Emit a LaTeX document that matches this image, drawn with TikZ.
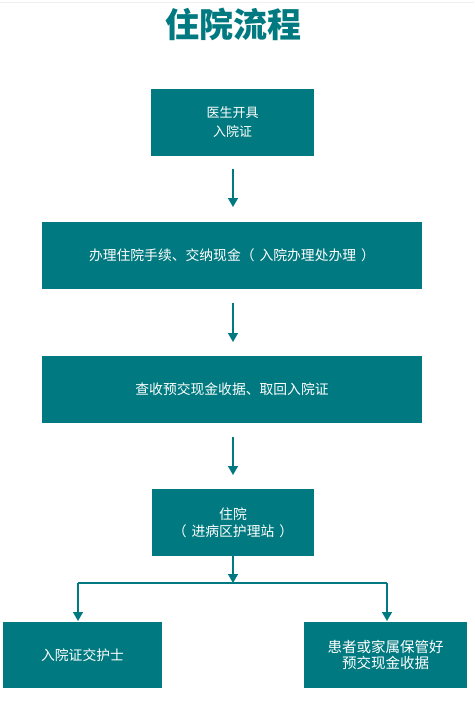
\documentclass[tikz,border=0pt]{standalone}
\usepackage{fontspec}
\setmainfont{Noto Sans CJK SC}
\newfontfamily\titlefont{Noto Sans CJK SC Black}
\usetikzlibrary{arrows.meta}
\definecolor{teal1}{HTML}{007A80}
\tikzset{
  box/.style={fill=teal1, text=white, font=\fontsize{13.8}{19}\selectfont, align=center, inner sep=0pt},
  arr/.style={draw=teal1, line width=1.4pt, -{Triangle[width=10pt,length=9pt]}},
  ln/.style={draw=teal1, line width=1.4pt}
}
\newcommand{\lp}{（\hspace{5pt}}
\newcommand{\rp}{\hspace{5pt}）}
\begin{document}
\begin{tikzpicture}[x=1pt,y=-1pt]
\useasboundingbox (0,0) rectangle (474,701);
\fill[white] (0,0) rectangle (474,701);
\draw[black!6, line width=1pt] (0,3) -- (474,3);
\node[text=teal1, font=\titlefont\fontsize{34}{36}\selectfont] (title) at (233,24) {住院流程};
\node[box, minimum width=163pt, minimum height=67pt, font=\fontsize{13}{19}\selectfont] (b1) at (232.5,122.5) {医生开具\\入院证};
\node[box, minimum width=380pt, minimum height=67pt] (b2) at (232,255.5) {办理住院手续、交纳现金\lp 入院办理处办理\rp};
\node[box, minimum width=380pt, minimum height=67pt] (b3) at (232,389.5) {查收预交现金收据、取回入院证};
\node[box, minimum width=162pt, minimum height=67pt, font=\fontsize{13.8}{17}\selectfont] (b4) at (233,522.5) {住院\\\lp 进病区护理站\rp};
\node[box, minimum width=159pt, minimum height=66pt] (b5) at (82.5,655) {入院证交护士};
\node[box, minimum width=163pt, minimum height=66pt, font=\fontsize{14.5}{16}\selectfont] (b6) at (385.5,655) {患者或家属保管好\\预交现金收据};
\coordinate (a1s) at (233,169);
\coordinate (a1e) at (233,207);
\draw[arr] (a1s) -- (a1e);
\coordinate (a2s) at (233,303);
\coordinate (a2e) at (233,342);
\draw[arr] (a2s) -- (a2e);
\coordinate (a3s) at (233,437);
\coordinate (a3e) at (233,475);
\draw[arr] (a3s) -- (a3e);
\coordinate (j) at (233,583);
\draw[arr] (b4.south) -- (j);
\coordinate (jl) at (78,583);
\coordinate (jr) at (387,583);
\draw[ln] (jl) -- (jr);
\draw[arr] (jl) -- (78,621);
\draw[arr] (jr) -- (387,621);
\end{tikzpicture}
\end{document}
